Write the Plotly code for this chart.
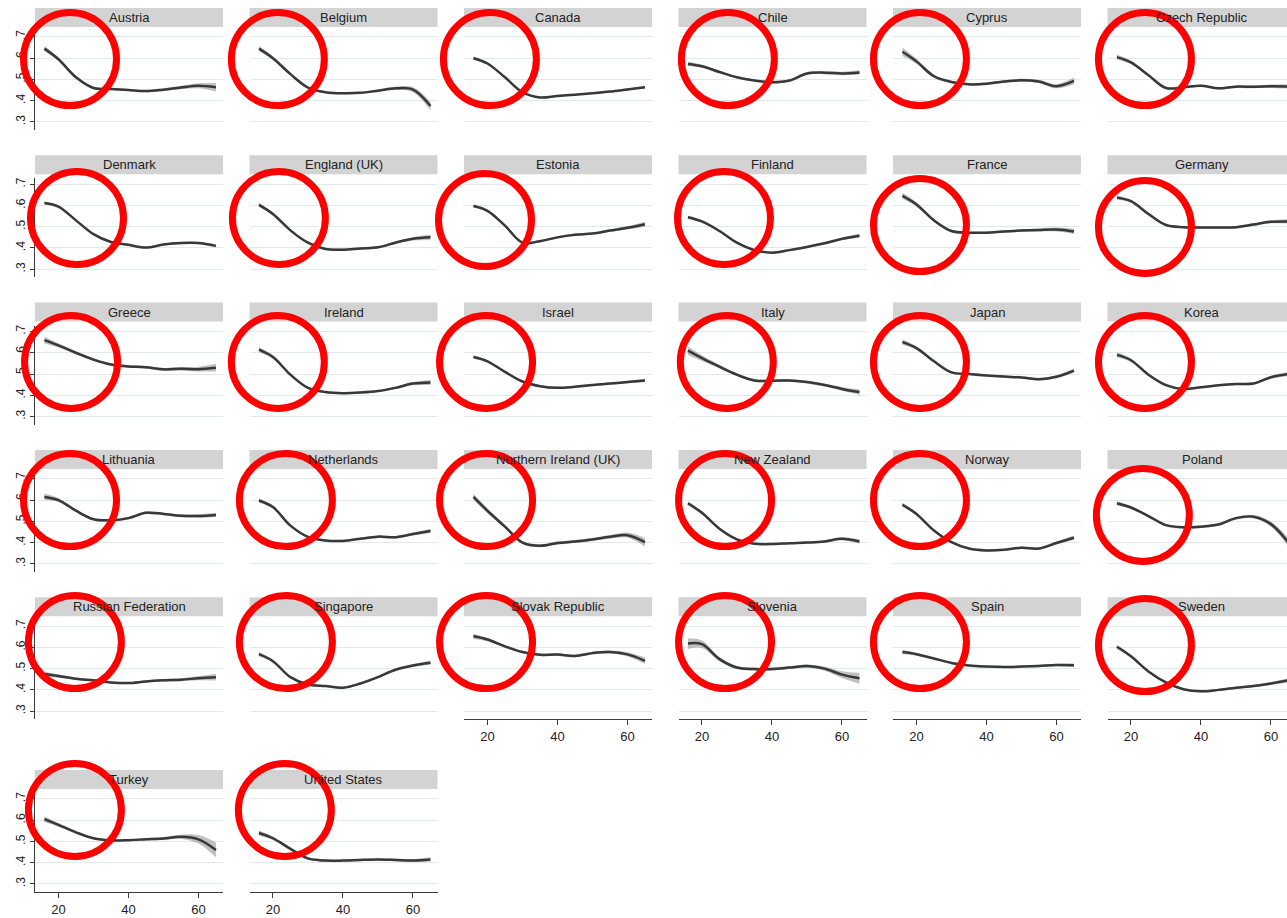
import plotly.graph_objects as go

# Ages at which each smoothed curve is given
ages = [16, 20, 25, 30, 35, 40, 45, 50, 55, 60, 65]

countries = [
    "Austria", "Belgium", "Canada", "Chile", "Cyprus", "Czech Republic",
    "Denmark", "England (UK)", "Estonia", "Finland", "France", "Germany",
    "Greece", "Ireland", "Israel", "Italy", "Japan", "Korea",
    "Lithuania", "Netherlands", "Northern Ireland (UK)", "New Zealand", "Norway", "Poland",
    "Russian Federation", "Singapore", "Slovak Republic", "Slovenia", "Spain", "Sweden",
    "Turkey", "United States",
]

# Smoothed mean by age
austria = [0.645, 0.595, 0.51, 0.46, 0.455, 0.45, 0.445, 0.452, 0.462, 0.47, 0.463]
belgium = [0.645, 0.60, 0.525, 0.462, 0.44, 0.435, 0.437, 0.447, 0.458, 0.452, 0.375]
canada = [0.60, 0.575, 0.51, 0.44, 0.415, 0.422, 0.428, 0.435, 0.443, 0.453, 0.463]
chile = [0.573, 0.562, 0.535, 0.51, 0.495, 0.487, 0.495, 0.528, 0.532, 0.528, 0.533]
cyprus = [0.63, 0.585, 0.515, 0.488, 0.477, 0.48, 0.49, 0.496, 0.49, 0.468, 0.493]
czech = [0.605, 0.58, 0.52, 0.46, 0.463, 0.47, 0.458, 0.466, 0.465, 0.468, 0.467]
denmark = [0.612, 0.595, 0.53, 0.465, 0.428, 0.415, 0.402, 0.416, 0.423, 0.423, 0.41]
england = [0.603, 0.56, 0.483, 0.425, 0.395, 0.392, 0.398, 0.403, 0.425, 0.443, 0.45]
estonia = [0.598, 0.575, 0.505, 0.425, 0.432, 0.45, 0.462, 0.468, 0.482, 0.495, 0.512]
finland = [0.545, 0.525, 0.48, 0.425, 0.39, 0.378, 0.39, 0.405, 0.422, 0.443, 0.458]
france = [0.645, 0.605, 0.53, 0.48, 0.472, 0.472, 0.478, 0.482, 0.485, 0.487, 0.478]
germany = [0.637, 0.62, 0.56, 0.508, 0.498, 0.497, 0.497, 0.498, 0.51, 0.523, 0.525]
greece = [0.66, 0.635, 0.60, 0.568, 0.545, 0.536, 0.532, 0.522, 0.525, 0.523, 0.53]
ireland = [0.615, 0.58, 0.497, 0.435, 0.415, 0.41, 0.413, 0.42, 0.435, 0.455, 0.46]
israel = [0.58, 0.56, 0.51, 0.465, 0.443, 0.435, 0.44, 0.448, 0.455, 0.462, 0.47]
italy = [0.61, 0.575, 0.535, 0.497, 0.47, 0.468, 0.47, 0.462, 0.448, 0.43, 0.415]
japan = [0.65, 0.622, 0.56, 0.508, 0.50, 0.493, 0.488, 0.484, 0.475, 0.487, 0.516]
korea = [0.59, 0.565, 0.497, 0.448, 0.43, 0.438, 0.447, 0.453, 0.455, 0.485, 0.50]
lithuania = [0.615, 0.60, 0.55, 0.51, 0.505, 0.515, 0.54, 0.535, 0.526, 0.525, 0.53]
netherlands = [0.598, 0.567, 0.48, 0.427, 0.41, 0.408, 0.418, 0.428, 0.425, 0.44, 0.455]
n_ireland = [0.615, 0.55, 0.475, 0.40, 0.385, 0.398, 0.405, 0.415, 0.427, 0.435, 0.402]
new_zealand = [0.585, 0.54, 0.465, 0.415, 0.395, 0.393, 0.397, 0.40, 0.405, 0.418, 0.405]
norway = [0.578, 0.535, 0.457, 0.402, 0.372, 0.363, 0.366, 0.376, 0.372, 0.398, 0.423]
poland = [0.585, 0.565, 0.525, 0.482, 0.472, 0.475, 0.485, 0.515, 0.522, 0.487, 0.40]
russia = [0.475, 0.465, 0.452, 0.445, 0.435, 0.432, 0.44, 0.445, 0.448, 0.455, 0.46]
singapore = [0.568, 0.535, 0.46, 0.425, 0.418, 0.41, 0.43, 0.46, 0.495, 0.515, 0.528]
slovakia = [0.652, 0.637, 0.605, 0.578, 0.565, 0.566, 0.56, 0.573, 0.578, 0.567, 0.537]
slovenia = [0.618, 0.615, 0.545, 0.505, 0.498, 0.498, 0.505, 0.512, 0.50, 0.472, 0.455]
spain = [0.578, 0.568, 0.548, 0.527, 0.515, 0.51, 0.508, 0.51, 0.513, 0.517, 0.516]
sweden = [0.603, 0.558, 0.487, 0.435, 0.403, 0.393, 0.40, 0.41, 0.418, 0.43, 0.445]
turkey = [0.605, 0.578, 0.543, 0.515, 0.505, 0.506, 0.51, 0.514, 0.522, 0.51, 0.46]
united_states = [0.54, 0.515, 0.465, 0.42, 0.41, 0.41, 0.413, 0.415, 0.413, 0.41, 0.415]

# Half-width of the confidence band at each age
austria_ci = [0.012, 0.008, 0.006, 0.005, 0.005, 0.005, 0.005, 0.006, 0.008, 0.012, 0.02]
belgium_ci = [0.012, 0.008, 0.006, 0.005, 0.005, 0.005, 0.005, 0.006, 0.008, 0.012, 0.02]
canada_ci = [0.008, 0.005, 0.004, 0.004, 0.004, 0.004, 0.004, 0.004, 0.004, 0.005, 0.006]
chile_ci = [0.01, 0.007, 0.006, 0.005, 0.005, 0.005, 0.006, 0.006, 0.007, 0.008, 0.01]
cyprus_ci = [0.02, 0.012, 0.008, 0.006, 0.006, 0.006, 0.006, 0.007, 0.008, 0.01, 0.016]
czech_ci = [0.012, 0.008, 0.006, 0.005, 0.005, 0.005, 0.005, 0.006, 0.006, 0.008, 0.01]
denmark_ci = [0.007, 0.005, 0.005, 0.004, 0.004, 0.004, 0.004, 0.004, 0.005, 0.005, 0.007]
england_ci = [0.01, 0.007, 0.005, 0.005, 0.005, 0.005, 0.005, 0.005, 0.006, 0.008, 0.012]
estonia_ci = [0.008, 0.006, 0.005, 0.005, 0.005, 0.005, 0.005, 0.005, 0.006, 0.008, 0.012]
finland_ci = [0.008, 0.006, 0.005, 0.005, 0.005, 0.005, 0.005, 0.005, 0.006, 0.007, 0.01]
france_ci = [0.015, 0.01, 0.007, 0.006, 0.005, 0.005, 0.005, 0.006, 0.007, 0.009, 0.012]
germany_ci = [0.01, 0.007, 0.006, 0.005, 0.005, 0.005, 0.005, 0.005, 0.006, 0.007, 0.01]
greece_ci = [0.016, 0.01, 0.008, 0.007, 0.006, 0.006, 0.006, 0.007, 0.008, 0.011, 0.018]
ireland_ci = [0.012, 0.008, 0.006, 0.005, 0.005, 0.005, 0.005, 0.005, 0.006, 0.008, 0.012]
israel_ci = [0.008, 0.006, 0.005, 0.005, 0.005, 0.005, 0.005, 0.005, 0.005, 0.006, 0.008]
italy_ci = [0.02, 0.014, 0.009, 0.007, 0.006, 0.006, 0.006, 0.006, 0.007, 0.009, 0.012]
japan_ci = [0.012, 0.008, 0.006, 0.005, 0.005, 0.005, 0.005, 0.005, 0.006, 0.007, 0.01]
korea_ci = [0.012, 0.008, 0.006, 0.005, 0.005, 0.005, 0.005, 0.005, 0.006, 0.007, 0.01]
lithuania_ci = [0.015, 0.01, 0.007, 0.006, 0.006, 0.006, 0.006, 0.006, 0.007, 0.008, 0.01]
netherlands_ci = [0.01, 0.007, 0.005, 0.005, 0.005, 0.005, 0.005, 0.005, 0.006, 0.007, 0.01]
n_ireland_ci = [0.016, 0.011, 0.008, 0.007, 0.007, 0.007, 0.007, 0.008, 0.009, 0.012, 0.02]
new_zealand_ci = [0.01, 0.007, 0.005, 0.005, 0.005, 0.005, 0.005, 0.005, 0.006, 0.007, 0.01]
norway_ci = [0.01, 0.007, 0.005, 0.005, 0.005, 0.005, 0.005, 0.005, 0.006, 0.007, 0.01]
poland_ci = [0.01, 0.007, 0.006, 0.006, 0.006, 0.006, 0.006, 0.007, 0.008, 0.012, 0.02]
russia_ci = [0.012, 0.008, 0.006, 0.005, 0.005, 0.005, 0.005, 0.006, 0.007, 0.01, 0.016]
singapore_ci = [0.01, 0.007, 0.005, 0.005, 0.005, 0.005, 0.005, 0.005, 0.006, 0.007, 0.01]
slovakia_ci = [0.012, 0.008, 0.006, 0.006, 0.006, 0.006, 0.006, 0.006, 0.007, 0.01, 0.015]
slovenia_ci = [0.025, 0.018, 0.01, 0.008, 0.007, 0.007, 0.007, 0.008, 0.01, 0.016, 0.026]
spain_ci = [0.01, 0.007, 0.005, 0.005, 0.005, 0.005, 0.005, 0.005, 0.005, 0.006, 0.008]
sweden_ci = [0.01, 0.007, 0.005, 0.005, 0.005, 0.005, 0.005, 0.005, 0.006, 0.007, 0.01]
turkey_ci = [0.014, 0.009, 0.006, 0.005, 0.005, 0.005, 0.006, 0.007, 0.01, 0.02, 0.035]
united_states_ci = [0.012, 0.008, 0.006, 0.005, 0.005, 0.005, 0.005, 0.005, 0.006, 0.007, 0.01]

means = [
    austria, belgium, canada, chile, cyprus, czech,
    denmark, england, estonia, finland, france, germany,
    greece, ireland, israel, italy, japan, korea,
    lithuania, netherlands, n_ireland, new_zealand, norway, poland,
    russia, singapore, slovakia, slovenia, spain, sweden,
    turkey, united_states,
]
bands = [
    austria_ci, belgium_ci, canada_ci, chile_ci, cyprus_ci, czech_ci,
    denmark_ci, england_ci, estonia_ci, finland_ci, france_ci, germany_ci,
    greece_ci, ireland_ci, israel_ci, italy_ci, japan_ci, korea_ci,
    lithuania_ci, netherlands_ci, n_ireland_ci, new_zealand_ci, norway_ci, poland_ci,
    russia_ci, singapore_ci, slovakia_ci, slovenia_ci, spain_ci, sweden_ci,
    turkey_ci, united_states_ci,
]

# Red highlight rings: centre (age, value) in each panel
ring_age = [
    23.3, 21.4, 20.7, 27.4, 21.0, 24.0,
    25.3, 21.7, 19.3, 26.3, 21.0, 24.0,
    23.6, 21.4, 19.6, 27.1, 21.0, 24.0,
    23.3, 23.7, 19.6, 26.6, 21.0, 23.4,
    24.7, 23.7, 19.6, 26.6, 21.0, 24.0,
    24.7, 23.4,
]
ring_value = [
    0.596, 0.596, 0.596, 0.596, 0.596, 0.596,
    0.541, 0.541, 0.532, 0.541, 0.508, 0.499,
    0.557, 0.557, 0.557, 0.557, 0.557, 0.557,
    0.600, 0.600, 0.600, 0.600, 0.600, 0.530,
    0.625, 0.625, 0.625, 0.625, 0.625, 0.611,
    0.648, 0.648,
]

y_ticks = [0.3, 0.4, 0.5, 0.6, 0.7]
y_tick_text = [".3", ".4", ".5", ".6", ".7"]
x_ticks = [20, 40, 60]

# Page geometry (pixels)
W, H = 1287, 918
COL_LEFT = [35, 249.5, 464, 678.5, 893, 1107.5]
ROW_TOP = [31, 178.3, 325.6, 472.9, 620.2, 793]
PANEL_W, PANEL_H = 188, 99
X_MIN, PX_PER_YEAR = 13.3, 3.5
Y_RANGE = [0.262, 0.728]
RING_R = 46.5
BOTTOM_PANELS = {26, 27, 28, 29, 30, 31}

FONT = "Liberation Sans, Arial, sans-serif"
LINE_COLOR = "#383838"
BAND_COLOR = "rgba(140,140,140,0.55)"
GRID_COLOR = "#e3e8eb"
AXIS_COLOR = "#3a3a3a"
STRIP_COLOR = "#d3d3d3"

fig = go.Figure()
layout = dict(
    width=W, height=H, margin=dict(l=0, r=0, t=0, b=0),
    paper_bgcolor="white", plot_bgcolor="white", showlegend=False,
    font=dict(family=FONT, color="#222"),
)
shapes, annotations = [], []

for i, name in enumerate(countries):
    row, col = divmod(i, 6)
    left = COL_LEFT[col]
    right = min(left + PANEL_W, W)
    vis_w = right - left
    top = ROW_TOP[row]
    suffix = "" if i == 0 else str(i + 1)
    xa, ya = "x" + suffix, "y" + suffix
    bottom = i in BOTTOM_PANELS
    first_col = col == 0

    layout["xaxis" + suffix] = dict(
        domain=[left / W, right / W], anchor=ya,
        range=[X_MIN, X_MIN + vis_w / PX_PER_YEAR],
        showgrid=False, zeroline=False, tickvals=x_ticks,
        showticklabels=bottom, showline=bottom, linecolor=AXIS_COLOR, linewidth=1,
        ticks="outside" if bottom else "", ticklen=5, tickcolor=AXIS_COLOR,
        tickfont=dict(size=13, color="#222", family=FONT), fixedrange=True,
    )
    layout["yaxis" + suffix] = dict(
        domain=[1 - (top + PANEL_H) / H, 1 - top / H], anchor=xa,
        range=Y_RANGE, tickvals=y_ticks, ticktext=y_tick_text,
        showgrid=True, gridcolor=GRID_COLOR, gridwidth=1, zeroline=False,
        showticklabels=first_col, showline=first_col, linecolor=AXIS_COLOR, linewidth=1,
        ticks="outside" if first_col else "", ticklen=4, tickcolor=AXIS_COLOR,
        tickangle=-90, tickfont=dict(size=12, color="#222", family=FONT), fixedrange=True,
    )

    mean, ci = means[i], bands[i]
    upper = [m + c for m, c in zip(mean, ci)]
    lower = [m - c for m, c in zip(mean, ci)]
    fig.add_trace(go.Scatter(x=ages, y=upper, xaxis=xa, yaxis=ya, mode="lines",
                             line=dict(width=0, shape="spline", color=BAND_COLOR),
                             hoverinfo="skip"))
    fig.add_trace(go.Scatter(x=ages, y=lower, xaxis=xa, yaxis=ya, mode="lines",
                             line=dict(width=0, shape="spline", color=BAND_COLOR),
                             fill="tonexty", fillcolor=BAND_COLOR, hoverinfo="skip"))
    fig.add_trace(go.Scatter(x=ages, y=mean, xaxis=xa, yaxis=ya, mode="lines",
                             line=dict(width=2.5, shape="spline", color=LINE_COLOR),
                             name=name))

    # Title strip above the panel
    shapes.append(dict(type="rect", xref=xa + " domain", yref=ya + " domain",
                       x0=0, x1=1, y0=1 + 4 / PANEL_H, y1=1 + 23 / PANEL_H,
                       fillcolor=STRIP_COLOR, line=dict(width=0), layer="below"))
    annotations.append(dict(text=name, xref=xa + " domain", yref=ya + " domain",
                            x=(PANEL_W / 2) / vis_w, y=1 + 13.5 / PANEL_H,
                            showarrow=False, xanchor="center", yanchor="middle",
                            font=dict(size=13, color="#222", family=FONT)))

    # Red ring
    cx = (ring_age[i] - X_MIN) * PX_PER_YEAR / vis_w
    cy = (ring_value[i] - Y_RANGE[0]) / (Y_RANGE[1] - Y_RANGE[0])
    rx = RING_R / vis_w
    ry = RING_R / PANEL_H
    shapes.append(dict(type="circle", xref=xa + " domain", yref=ya + " domain",
                       x0=cx - rx, x1=cx + rx, y0=cy - ry, y1=cy + ry,
                       line=dict(color="#ff0000", width=7), layer="above"))

layout["shapes"] = shapes
layout["annotations"] = annotations
fig.update_layout(**layout)
fig.write_html("out.html")
